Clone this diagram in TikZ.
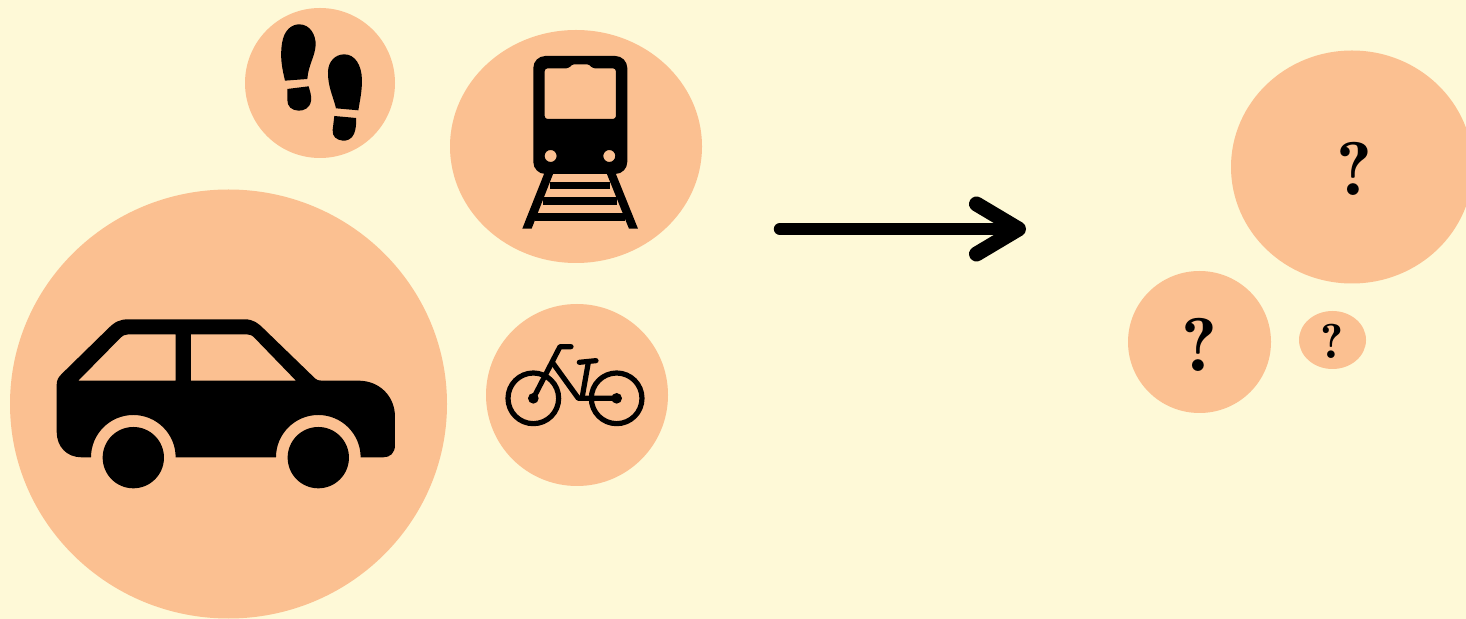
\documentclass[tikz,border=0pt]{standalone}
\usetikzlibrary{shapes.geometric, arrows.meta}
\definecolor{paper}{HTML}{FEF9D7}
\definecolor{peach}{HTML}{FBC091}

\begin{document}
\begin{tikzpicture}[
    x=0.5pt, y=-0.5pt,
    bubble/.style={ellipse, fill=peach, inner sep=0pt, font=\fontseries{b}\selectfont},
    bikeline/.style={line width=2.6pt, line cap=round, line join=round},
    arrow/.style={-{Straight Barb[round, length=21pt, width=25pt, line width=7.5pt]}, line width=6.2pt, line cap=round}
]
    \useasboundingbox (0,0) rectangle (1466,619);
    \clip (0,0) rectangle (1466,619);
    \fill[paper] (0,0) rectangle (1466,619);

    % 左边的圆
    \node[bubble, minimum width=218.5pt, minimum height=214.5pt] (carspot) at (228.5,404) {};
    \node[bubble, minimum width=75pt, minimum height=75pt] (footspot) at (320,83) {};
    \node[bubble, minimum width=126pt, minimum height=116.5pt] (trainspot) at (576,146.5) {};
    \node[bubble, minimum width=91pt, minimum height=91pt] (bikespot) at (577,395) {};

    % 右边的圆
    \node[bubble, minimum width=121pt, minimum height=116.5pt, text height=28.4pt] (bigspot) at (1352,167) {\fontsize{38}{38}\selectfont\hspace*{2.5pt}?};
    \node[bubble, minimum width=71.5pt, minimum height=71pt, text height=29.4pt] (midspot) at (1199.5,342) {\fontsize{38}{38}\selectfont ?};
    \node[bubble, minimum width=33.5pt, minimum height=29pt, text height=19pt] (smallspot) at (1332.5,340) {\fontsize{24.5}{24.5}\selectfont ?};

    % 箭头
    \coordinate (arrowstart) at (780,229);
    \coordinate (arrowend) at (1026,229);
    \draw[arrow] (arrowstart) -- (arrowend);

    % 汽车
    \begin{scope}[shift={(40,300)}, scale=0.3333]
        \fill[even odd rule] (50,255) .. controls (50,240) and (55,232) .. (65,222)
            -- (205,85) .. controls (225,65) and (240,58) .. (265,58)
            -- (615,58) .. controls (640,58) and (655,70) .. (670,85)
            -- (825,235) .. controls (830,240) and (835,242) .. (845,242)
            -- (955,242) .. controls (1020,242) and (1065,290) .. (1065,350)
            -- (1065,435) .. controls (1065,460) and (1050,472) .. (1030,472)
            -- (962,472) arc[start angle=0, end angle=-180, radius=127]
            -- (407,472) arc[start angle=0, end angle=-180, radius=127]
            -- (125,472) .. controls (80,472) and (50,440) .. (50,395) -- cycle
            (115,242) -- (240,115) .. controls (248,107) and (255,103) .. (265,103)
            -- (407,103) -- (407,242) -- cycle
            (453,103) -- (620,103) .. controls (630,103) and (637,106) .. (645,115)
            -- (768,242) -- (453,242) -- cycle;
        \fill (280,473) circle[radius=92];
        \fill (835,473) circle[radius=92];
    \end{scope}

    % 脚印
    \begin{scope}[shift={(230,0)}, scale=0.3333]
        \fill (165,242) .. controls (155,200) and (150,170) .. (156,130)
            .. controls (162,90) and (185,73) .. (208,73)
            .. controls (240,73) and (258,105) .. (257,135)
            .. controls (255,170) and (235,195) .. (232,237) -- cycle;
        \fill (172,267) -- (236,259) .. controls (240,275) and (245,285) .. (243,303)
            .. controls (240,325) and (220,333) .. (205,332)
            .. controls (185,331) and (172,320) .. (172,300) -- cycle;
        \fill (318,325) .. controls (310,290) and (293,260) .. (294,215)
            .. controls (295,185) and (315,163) .. (343,163)
            .. controls (375,163) and (395,195) .. (396,240)
            .. controls (396,275) and (390,300) .. (385,331) -- cycle;
        \fill (313,348) -- (378,354) .. controls (380,370) and (377,390) .. (372,402)
            .. controls (365,418) and (350,423) .. (338,422)
            .. controls (320,420) and (306,410) .. (308,390) -- cycle;
    \end{scope}

    % 火车
    \begin{scope}[shift={(230,0)}, scale=0.3333]
        \fill[even odd rule, rounded corners=6pt] (910,168) rectangle (1192,522)
            [rounded corners=1.5pt] (944,205) -- (1018,205) -- (1024,193) -- (1080,193)
            -- (1086,205) -- (1158,205) -- (1158,357) -- (944,357) -- cycle
            [sharp corners] (962,468) circle[radius=18] (1138,468) circle[radius=18];
        \fill (945,515) -- (972,515) -- (905,686) -- (877,686) -- cycle;
        \fill (1128,515) -- (1155,515) -- (1224,686) -- (1197,686) -- cycle;
        \fill (960,545) rectangle (1140,568);
        \fill (940,592) rectangle (1160,615);
        \fill (915,640) rectangle (1185,662);
    \end{scope}

    % 自行车
    \begin{scope}[shift={(490,330)}, scale=0.3333]
        \draw[bikeline] (130,205) circle[radius=76];
        \draw[bikeline] (380,205) circle[radius=76];
        \fill (130,205) circle[radius=16];
        \fill (380,205) circle[radius=16];
        \draw[bikeline] (130,205) -- (210,50) -- (243,50);
        \draw[bikeline] (187,97) -- (265,205) -- (380,205);
        \draw[bikeline] (295,97) -- (276,205);
        \draw[bikeline] (268,97) -- (318,92);
    \end{scope}
\end{tikzpicture}
\end{document}
